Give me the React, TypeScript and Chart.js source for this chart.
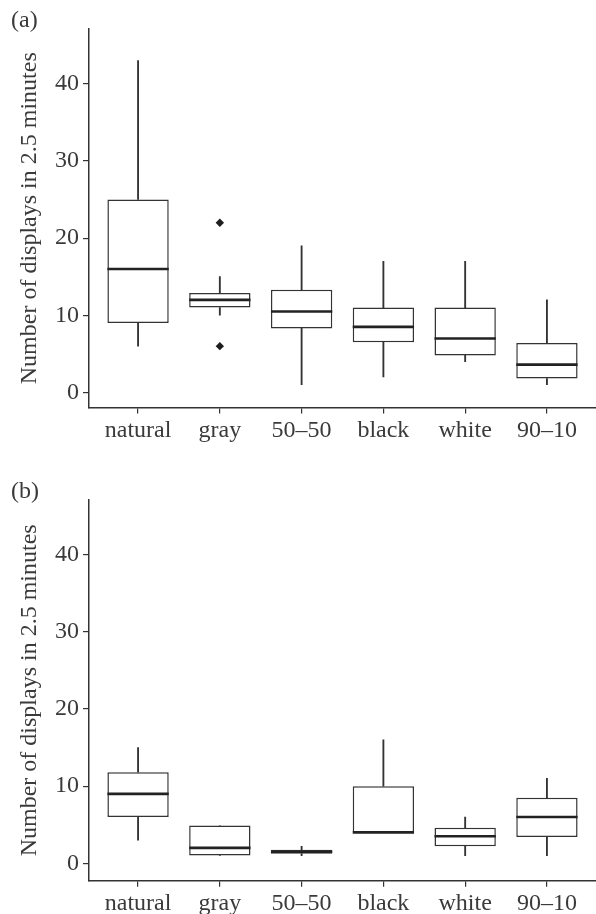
import React, { useEffect, useRef } from 'react';
import { Chart, registerables } from 'chart.js';

Chart.register(...registerables);

// ---------- data ----------
const CATEGORIES = ['natural', 'gray', '50–50', 'black', 'white', '90–10'];
const CATEGORY_POSITIONS = [1, 2, 3, 4, 5, 6];
const Y_TICKS = [0, 10, 20, 30, 40];
const Y_TITLE = 'Number of displays in 2.5 minutes';

// panel (a)
const A_LOW = [6, 10, 1, 2, 4, 1];
const A_Q1 = [9, 11, 8.3, 6.5, 4.8, 1.8];
const A_MEDIAN = [16, 12, 10.5, 8.5, 7, 3.6];
const A_Q3 = [25, 12.9, 13.3, 11, 11, 6.4];
const A_HIGH = [43, 15, 19, 17, 17, 12];
const A_OUTLIER_CATEGORY = ['gray', 'gray'];
const A_OUTLIER_VALUE = [22, 6];

// panel (b)
const B_LOW = [3, 1, 1.0, 4, 1, 1];
const B_Q1 = [6, 1, 1.25, 4, 2.2, 3.4];
const B_MEDIAN = [9, 2, 1.5, 4, 3.5, 6];
const B_Q3 = [11.8, 4.9, 1.75, 10, 4.6, 8.5];
const B_HIGH = [15, 4.9, 2.2, 16, 6, 11];
const B_OUTLIER_CATEGORY: string[] = [];
const B_OUTLIER_VALUE: number[] = [];

// ---------- style ----------
const INK = '#333333';
const TEXT = '#3a3a3a';
const FONT_FAMILY = '"Liberation Serif", "Times New Roman", serif';
const BOX_FRAC = 0.75;

type PanelProps = {
  label: string;
  low: number[];
  q1: number[];
  median: number[];
  q3: number[];
  high: number[];
  outCat: string[];
  outVal: number[];
  yMin: number;
  yMax: number;
  top: number;
  height: number;
  xAxisHeight: number;
};

function BoxPanel(p: PanelProps) {
  const ref = useRef<HTMLCanvasElement | null>(null);

  useEffect(() => {
    if (!ref.current) return;
    const pos = CATEGORY_POSITIONS;
    const chart = new Chart(ref.current, {
      type: 'bar',
      data: {
        datasets: [
          {
            type: 'line',
            label: 'median',
            data: pos.map((x, i) => ({ x, y: p.median[i] })),
            showLine: false,
            pointStyle: 'line',
            pointRadius: (ctx: any) => {
              const s = ctx.chart.scales.x;
              return Math.abs(s.getPixelForValue(1 + BOX_FRAC / 2) - s.getPixelForValue(1));
            },
            pointBorderWidth: 2.6,
            pointBorderColor: '#222222',
            pointBackgroundColor: '#222222',
            order: 0,
          } as any,
          {
            type: 'line',
            label: 'outliers',
            data: p.outCat.map((c, i) => ({ x: CATEGORIES.indexOf(c) + 1, y: p.outVal[i] })),
            showLine: false,
            pointStyle: 'rectRot',
            pointRadius: 4.2,
            pointBorderWidth: 0,
            pointBackgroundColor: '#1e1e1e',
            order: 0,
          } as any,
          {
            type: 'bar',
            label: 'box',
            data: pos.map((x, i) => ({ x, y: [p.q1[i], p.q3[i]] })),
            backgroundColor: '#ffffff',
            borderColor: INK,
            borderWidth: 1.5,
            borderSkipped: false,
            grouped: false,
            barPercentage: BOX_FRAC,
            categoryPercentage: 1,
            order: 1,
          } as any,
          {
            type: 'bar',
            label: 'lower whisker',
            data: pos.map((x, i) => ({ x, y: [p.low[i], p.q1[i]] })),
            backgroundColor: INK,
            borderWidth: 0,
            barThickness: 1.2,
            grouped: false,
            order: 2,
          } as any,
          {
            type: 'bar',
            label: 'upper whisker',
            data: pos.map((x, i) => ({ x, y: [p.q3[i], p.high[i]] })),
            backgroundColor: INK,
            borderWidth: 0,
            barThickness: 1.2,
            grouped: false,
            order: 2,
          } as any,
        ],
      },
      options: {
        responsive: false,
        animation: false,
        events: [],
        layout: { autoPadding: false, padding: { top: 29, left: 0, right: 0, bottom: 0 } },
        plugins: { legend: { display: false }, tooltip: { enabled: false } },
        scales: {
          x: {
            type: 'linear',
            min: 0.4,
            max: 6.6,
            offset: false,
            afterBuildTicks: (s: any) => {
              s.ticks = CATEGORY_POSITIONS.map((v) => ({ value: v }));
            },
            afterFit: (s: any) => {
              s.height = p.xAxisHeight;
              s.paddingLeft = 0;
              s.paddingRight = 0;
            },
            ticks: {
              autoSkip: false,
              maxRotation: 0,
              padding: 3,
              color: TEXT,
              font: { family: FONT_FAMILY, size: 24 },
              callback: (v: any) => CATEGORIES[Math.round(Number(v)) - 1] ?? '',
            },
            grid: {
              display: true,
              offset: false,
              drawOnChartArea: false,
              drawTicks: true,
              tickLength: 6,
              color: INK,
              lineWidth: 1.2,
            },
            border: { display: true, color: INK, width: 1.5 },
          } as any,
          y: {
            type: 'linear',
            min: p.yMin,
            max: p.yMax,
            afterBuildTicks: (s: any) => {
              s.ticks = Y_TICKS.map((v) => ({ value: v }));
            },
            afterFit: (s: any) => {
              s.width = 89;
              s.paddingTop = 0;
              s.paddingBottom = 0;
            },
            ticks: {
              padding: 4,
              color: TEXT,
              font: { family: FONT_FAMILY, size: 24 },
              callback: (v: any) => String(v),
            },
            grid: {
              display: true,
              drawOnChartArea: false,
              drawTicks: true,
              tickLength: 6,
              color: INK,
              lineWidth: 1.2,
            },
            border: { display: true, color: INK, width: 1.5 },
            title: {
              display: true,
              text: Y_TITLE,
              color: TEXT,
              font: { family: FONT_FAMILY, size: 24 },
              padding: { top: 15, bottom: 0 },
            },
          } as any,
        },
      },
    } as any);
    return () => chart.destroy();
  }, []);

  return (
    <div style={{ position: 'absolute', left: 0, top: p.top, width: 596, height: p.height }}>
      <canvas ref={ref} width={596} height={p.height} style={{ display: 'block', width: 596, height: p.height }} />
      <div
        style={{
          position: 'absolute',
          left: 11,
          top: 7,
          fontFamily: FONT_FAMILY,
          fontSize: 24,
          lineHeight: '24px',
          color: TEXT,
        }}
      >
        {p.label}
      </div>
    </div>
  );
}

export default function App() {
  return (
    <div style={{ position: 'absolute', left: 0, top: 0, width: 596, height: 914, overflow: 'hidden', background: '#fff' }}>
      <BoxPanel
        label="(a)"
        low={A_LOW}
        q1={A_Q1}
        median={A_MEDIAN}
        q3={A_Q3}
        high={A_HIGH}
        outCat={A_OUTLIER_CATEGORY}
        outVal={A_OUTLIER_VALUE}
        yMin={-1.95}
        yMax={47.1}
        top={0}
        height={457}
        xAxisHeight={49.5}
      />
      <BoxPanel
        label="(b)"
        low={B_LOW}
        q1={B_Q1}
        median={B_MEDIAN}
        q3={B_Q3}
        high={B_HIGH}
        outCat={B_OUTLIER_CATEGORY}
        outVal={B_OUTLIER_VALUE}
        yMin={-2.26}
        yMax={47.1}
        top={471}
        height={443}
        xAxisHeight={33.3}
      />
    </div>
  );
}
